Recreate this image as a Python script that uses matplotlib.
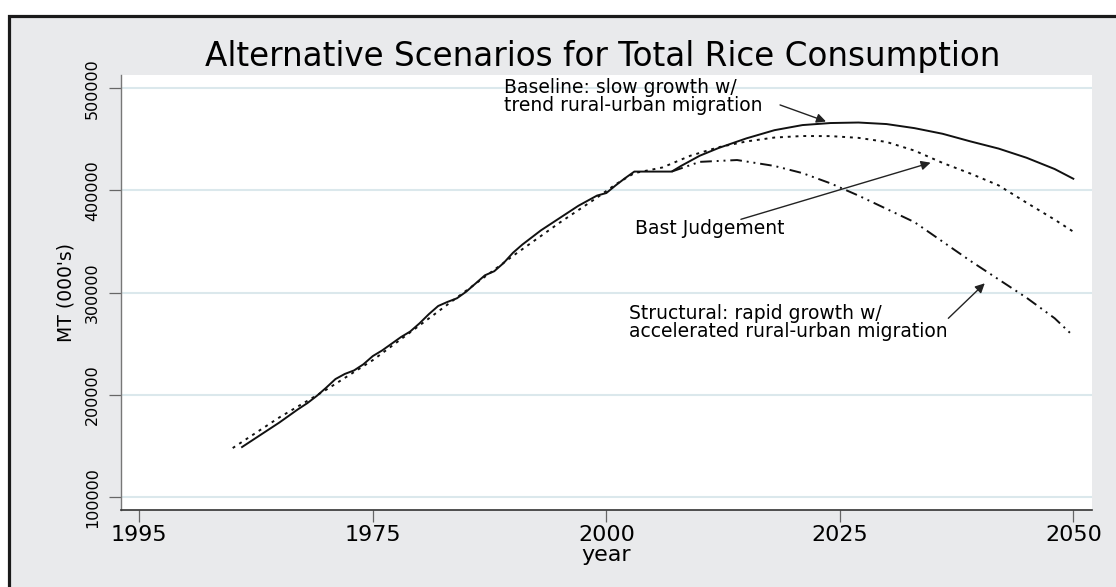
import matplotlib
matplotlib.use('Agg')
from matplotlib import pyplot as plt
from matplotlib.patches import Rectangle

plt.rcParams['font.family'] = ['DejaVu Sans']

# actual consumption then baseline projection (solid)
base_years = [1961, 1962, 1963, 1964, 1965, 1966, 1967, 1968, 1969, 1970,
              1971, 1972, 1973, 1974, 1975, 1976, 1977, 1978, 1979, 1980,
              1981, 1982, 1983, 1984, 1985, 1986, 1987, 1988, 1989, 1990,
              1991, 1992, 1993, 1994, 1995, 1996, 1997, 1998, 1999, 2000,
              2001, 2002, 2003, 2004, 2005, 2006, 2007, 2008, 2010, 2012,
              2015, 2018, 2021, 2024, 2027, 2030, 2033, 2036, 2039, 2042,
              2045, 2048, 2050]
base_vals = [149000, 155000, 161000, 167000, 173000, 179500, 186000, 192000, 199000, 207000,
             215500, 220500, 224000, 230000, 238000, 243500, 250000, 256500, 262000, 270000,
             279000, 287000, 291000, 294500, 301000, 309000, 317000, 321000, 329000, 339000,
             347000, 354000, 361000, 367000, 373000, 379000, 385000, 390000, 395000, 397500,
             405000, 412000, 418500, 418500, 418500, 418500, 418500, 424000, 434000, 441500,
             451000, 459000, 464000, 466000, 466500, 465000, 461000, 455500, 448000, 441000,
             432000, 421000, 411500]

# best judgement (dotted)
best_years = [1960, 1965, 1970, 1975, 1980, 1985, 1990, 1995, 1999, 2001,
              2003, 2006, 2009, 2012, 2015, 2018, 2021, 2024, 2027, 2030,
              2033, 2036, 2039, 2042, 2045, 2048, 2050]
best_vals = [148000, 178000, 205000, 234000, 268000, 302000, 336000, 368500, 393000, 406000,
             417000, 422500, 434000, 442300, 448000, 451800, 453300, 453200, 451500, 447500,
             439000, 427000, 416500, 405000, 388000, 371500, 359700]

# structural scenario (dash-dot-dot)
struct_years = [2007, 2010, 2014, 2018, 2021, 2024, 2027, 2030, 2033, 2036,
                2039, 2042, 2045, 2048, 2050]
struct_vals = [418500, 428000, 429800, 424000, 417000, 407000, 395000, 382000, 369000, 350000,
               331000, 313000, 295000, 275000, 257600]

xticks = [1950, 1975, 2000, 2025, 2050]
xtick_labels = ['1995', '1975', '2000', '2025', '2050']
yticks = [100000, 200000, 300000, 400000, 500000]

fig = plt.figure(figsize=(11.16, 5.87), dpi=100, facecolor='white')
# grey panel with dark frame line on top and left
fig.patches.append(Rectangle((8.5 / 1116, -0.1), 1.2, 1.1 - 15.5 / 587,
                             transform=fig.transFigure, facecolor='#e9eaec',
                             edgecolor='#1a1a1a', linewidth=2.3, zorder=-1))

ax = fig.add_axes([121 / 1116, 77 / 587, 971 / 1116, 435 / 587])
ax.set_facecolor('white')

ax.plot(base_years, base_vals, color='#111111', lw=1.4, solid_joinstyle='round')
ax.plot(best_years, best_vals, color='#111111', lw=1.4, linestyle=(0, (1.5, 2.5)))
ax.plot(struct_years, struct_vals, color='#111111', lw=1.4,
        linestyle=(0, (6, 2.5, 1, 2.5, 1, 2.5)))

ax.set_xlim(1948.04, 2052.0)
ax.set_ylim(87380, 513000)
ax.set_xticks(xticks)
ax.set_xticklabels(xtick_labels, fontsize=16)
ax.set_yticks(yticks)
ax.set_yticklabels([str(v) for v in yticks], fontsize=11.5, rotation=90, va='center')
ax.grid(axis='y', color='#dbe8ec', lw=1.5)
ax.set_axisbelow(True)
ax.tick_params(axis='x', length=8.6, width=0.9, color='#666666', pad=2)
ax.tick_params(axis='y', length=8.6, width=0.9, color='#666666', pad=6.5)
for s in ['top', 'right']:
    ax.spines[s].set_visible(False)
ax.spines['left'].set_color('#777777')
ax.spines['bottom'].set_color('#333333')
ax.spines['left'].set_linewidth(1.0)
ax.spines['bottom'].set_linewidth(1.2)

ax.set_ylabel("MT (000's)", fontsize=13.5, labelpad=7)
ax.set_xlabel('year', fontsize=16, labelpad=0)

fig.text(602.5 / 1116, 1 - 65.7 / 587, 'Alternative Scenarios for Total Rice Consumption',
         ha='center', va='baseline', fontsize=23.5)

arrow = dict(arrowstyle='-|>', lw=1.0, color='#222222', mutation_scale=14,
             shrinkA=0, shrinkB=0)
# va='baseline' on two-line text anchors the last line
ax.text(1989.03, 478000, 'Baseline: slow growth w/\ntrend rural-urban migration',
        fontsize=13.5, ha='left', va='baseline', linespacing=0.92)
ax.annotate('', xy=(2023.52, 467500), xytext=(2018.6, 483700), arrowprops=arrow)
ax.text(2003.02, 357400, 'Bast Judgement', fontsize=13.5, ha='left', va='baseline')
ax.annotate('', xy=(2034.72, 427200), xytext=(2014.41, 371800), arrowprops=arrow)
ax.text(2002.43, 256950, 'Structural: rapid growth w/\naccelerated rural-urban migration',
        fontsize=13.5, ha='left', va='baseline', linespacing=0.92)
ax.annotate('', xy=(2040.52, 309200), xytext=(2036.62, 274950), arrowprops=arrow)

plt.savefig('out.png', dpi=100)
